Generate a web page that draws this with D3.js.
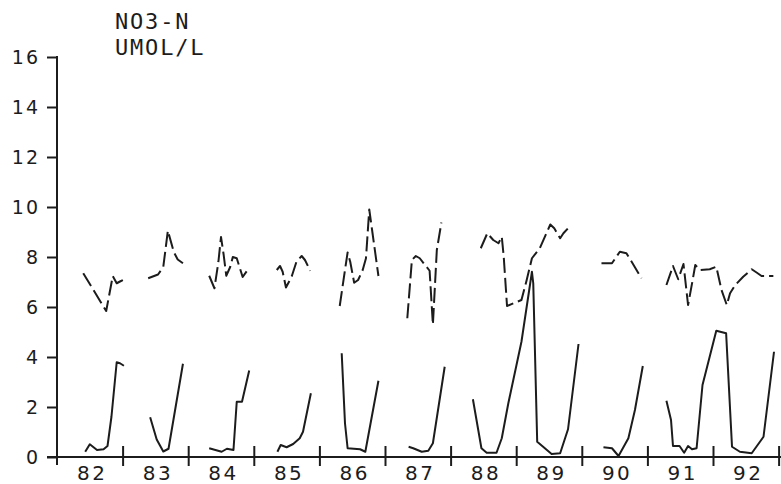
<!DOCTYPE html>
<html><head><meta charset="utf-8">
<script src="https://cdn.jsdelivr.net/npm/d3@7"></script>
<style>
html,body{margin:0;padding:0;background:#fff;}
svg{display:block;}
</style></head><body>
<svg id="chart" width="781" height="484"></svg>
<script>
const titleLines = ["NO3-N", "UMOL/L"];
const yearLabels = ["82","83","84","85","86","87","88","89","90","91","92"];
const yTickValues = [0,2,4,6,8,10,12,14,16];

// dashed series (time in decimal years, null = gap)
const dashedT = [82.40,82.75,82.85,82.91,82.96,83.02,null,
83.39,83.54,83.62,83.69,83.78,83.84,83.92,null,
84.32,84.40,84.46,84.50,84.54,84.58,84.64,84.68,84.74,84.83,84.91,null,
85.35,85.40,85.44,85.49,85.55,85.58,85.65,85.73,85.78,85.86,null,
86.31,86.39,86.43,86.47,86.53,86.59,86.66,86.71,86.76,86.81,86.90,null,
87.34,87.41,87.47,87.53,87.61,87.68,87.73,87.79,87.86,null,
88.46,88.56,88.65,88.73,88.78,88.81,88.86,88.96,89.08,89.16,89.24,89.36,89.52,89.58,89.67,89.72,89.79,null,
90.30,90.46,90.58,90.68,90.76,90.91,null,
91.29,91.39,91.47,91.55,91.62,91.69,91.73,91.80,91.95,92.05,92.13,92.21,92.26,92.34,92.46,92.59,92.67,92.74,92.92];
const dashedV = [7.35,5.84,7.24,6.95,7.02,7.10,null,
7.15,7.30,7.60,9.05,8.20,7.90,7.75,null,
7.25,6.75,7.80,8.80,8.10,7.25,7.60,8.00,7.95,7.20,7.50,null,
7.48,7.64,7.41,6.78,7.08,7.24,7.81,8.04,7.88,7.45,null,
6.04,7.48,8.18,7.81,6.97,7.08,7.48,7.95,9.90,8.95,7.24,null,
5.55,7.88,8.04,7.95,7.68,7.45,5.30,8.28,9.38,null,
8.35,8.95,8.68,8.55,8.81,8.01,6.04,6.15,6.28,7.08,7.95,8.35,9.30,9.15,8.75,8.95,9.15,null,
7.75,7.75,8.21,8.15,7.81,7.15,null,
6.88,7.64,7.11,7.72,6.08,7.08,7.68,7.48,7.51,7.61,6.68,6.08,6.55,6.88,7.21,7.51,7.37,7.24,7.24];

// solid series
const solidT = [82.43,82.50,82.61,82.71,82.77,82.83,82.91,82.96,83.02,null,
83.42,83.52,83.62,83.70,83.92,null,
84.32,84.51,84.59,84.69,84.74,84.82,84.93,null,
85.36,85.41,85.50,85.60,85.70,85.75,85.87,null,
86.34,86.39,86.43,86.62,86.70,86.90,null,
87.36,87.43,87.56,87.66,87.73,87.91,null,
88.34,88.47,88.55,88.70,88.78,88.88,89.08,89.24,89.26,89.32,89.41,89.54,89.67,89.79,89.95,null,
90.33,90.46,90.56,90.71,90.81,90.93,null,
91.29,91.36,91.39,91.49,91.56,91.62,91.68,91.75,91.84,92.05,92.20,92.29,92.41,92.59,92.77,92.93];
const solidV = [0.21,0.51,0.28,0.31,0.44,1.61,3.79,3.75,3.65,null,
1.59,0.70,0.22,0.33,3.73,null,
0.35,0.21,0.33,0.28,2.21,2.21,3.46,null,
0.21,0.48,0.39,0.52,0.75,1.01,2.55,null,
4.15,1.35,0.35,0.31,0.21,3.05,null,
0.41,0.35,0.21,0.25,0.55,3.61,null,
2.31,0.35,0.17,0.17,0.75,2.15,4.61,7.41,6.95,0.61,0.41,0.12,0.15,1.11,4.52,null,
0.39,0.35,0.04,0.75,1.88,3.64,null,
2.25,1.48,0.44,0.44,0.17,0.44,0.31,0.35,2.88,5.05,4.95,0.41,0.21,0.15,0.81,4.21];

const ink = "#1c1c1c";
const svg = d3.select("#chart");
svg.append("rect").attr("width",781).attr("height",484).attr("fill","#fff");

const x = d3.scaleLinear().domain([82, 93]).range([57, 778.6]);
const y = d3.scaleLinear().domain([0, 16]).range([457, 57]);

// title
svg.append("g").selectAll("text").data(titleLines).join("text")
  .attr("x", 115).attr("y", (d,i) => 29 + i*26)
  .attr("font-family", "DejaVu Sans Mono").attr("font-size", 22)
  .attr("letter-spacing", 1.8).attr("fill", ink).text(d => d);

// y axis
const gy = svg.append("g").attr("transform", `translate(${x(82)},0)`)
  .call(d3.axisLeft(y).tickValues(yTickValues).tickSize(10).tickPadding(9).tickSizeOuter(0));
gy.select(".domain").remove();
gy.selectAll(".tick line").attr("stroke", ink).attr("stroke-width", 2);
gy.selectAll(".tick text").attr("font-family", "DejaVu Sans").attr("font-size", 19)
  .attr("letter-spacing", 2).attr("dx", 2).attr("dy", "0.36em").attr("fill", ink);
svg.append("line").attr("x1", x(82)).attr("x2", x(82)).attr("y1", y(16) - 1).attr("y2", y(0) + 8)
  .attr("stroke", ink).attr("stroke-width", 2);

// x axis
svg.append("line").attr("x1", x(82) - 10).attr("x2", 781).attr("y1", y(0)).attr("y2", y(0))
  .attr("stroke", ink).attr("stroke-width", 2);
const gx = svg.append("g").attr("transform", `translate(0,${y(0)})`)
  .call(d3.axisBottom(x).tickValues(d3.range(83, 94)).tickSize(9).tickFormat(""));
gx.select(".domain").remove();
gx.selectAll(".tick line").attr("y1", -11).attr("stroke", ink).attr("stroke-width", 2);

const gl = svg.append("g").attr("transform", `translate(0,${y(0)})`)
  .call(d3.axisBottom(x).tickValues(yearLabels.map((d,i) => 82.5 + i))
    .tickFormat((d,i) => yearLabels[i]).tickSize(0).tickPadding(9));
gl.select(".domain").remove();
gl.selectAll(".tick text").attr("font-family", "DejaVu Sans").attr("font-size", 20)
  .attr("letter-spacing", 2.5).attr("dx", 2).attr("fill", ink);

// series
const line = d3.line().defined(d => d.v != null).x(d => x(d.t)).y(d => y(d.v));
const dashedData = d3.zip(dashedT, dashedV).map(([t, v]) => ({t, v}));
const solidData = d3.zip(solidT, solidV).map(([t, v]) => ({t, v}));

svg.append("path").datum(dashedData).attr("d", line)
  .attr("fill", "none").attr("stroke", ink).attr("stroke-width", 2)
  .attr("stroke-dasharray", "15,5").attr("stroke-linejoin", "round");
svg.append("path").datum(solidData).attr("d", line)
  .attr("fill", "none").attr("stroke", ink).attr("stroke-width", 2)
  .attr("stroke-linejoin", "round");
</script>
</body></html>
